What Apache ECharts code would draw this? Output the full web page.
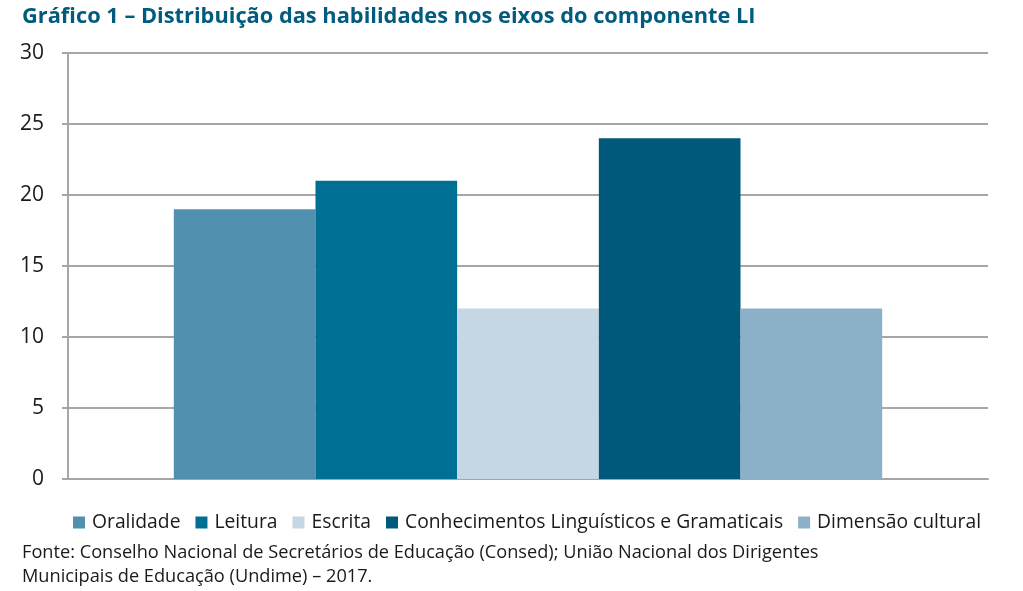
<!DOCTYPE html>
<html><head><meta charset="utf-8">
<script src="https://cdn.jsdelivr.net/npm/echarts@6/dist/echarts.min.js"></script>
<style>html,body{margin:0;padding:0;background:#fff}#c{width:1023px;height:591px}</style>
</head><body><div id="c"></div>
<script>
const categories = ['LI'];
const seriesNames = ['Oralidade','Leitura','Escrita','Conhecimentos Linguísticos e Gramaticais','Dimensão cultural'];
const seriesValues = [19, 21, 12, 24, 12];
const seriesColors = ['#5290b0','#006f94','#c5d7e5','#00587a','#8bb0c8'];
const yTicks = [0,5,10,15,20,25,30];
const titleText = 'Gráfico 1 – Distribuição das habilidades nos eixos do componente LI';
const sourceText = 'Fonte: Conselho Nacional de Secretários de Educação (Consed); União Nacional dos Dirigentes\nMunicipais de Educação (Undime) – 2017.';

const FONT = 'Open Sans';
const chart = echarts.init(document.getElementById('c'), null, {renderer:'canvas'});
chart.setOption({
  animation:false,
  textStyle:{fontFamily:FONT},
  title:[
    {text:titleText,left:17,top:1,textStyle:{fontFamily:FONT,fontSize:21.8,fontWeight:'bold',color:'#005b7f'}},
    {text:sourceText,left:17,top:536,textStyle:{fontFamily:FONT,fontSize:18.2,fontWeight:'normal',color:'#1a1a1a',lineHeight:24}}
  ],
  legend:{
    left:68,top:508,itemWidth:12,itemHeight:12,itemGap:15,icon:'rect',
    textStyle:{fontFamily:FONT,fontSize:19.3,color:'#1a1a1a',padding:[0,0,0,2]},
    data:seriesNames
  },
  grid:{left:68,right:35,top:53,bottom:112,containLabel:false},
  xAxis:{type:'category',data:categories,axisLine:{show:true,lineStyle:{color:'#a6a6a6',width:2}},axisTick:{show:false},axisLabel:{show:false}},
  yAxis:{type:'value',min:yTicks[0],max:yTicks[yTicks.length-1],interval:5,
    axisLine:{show:true,lineStyle:{color:'#a6a6a6',width:2}},
    axisTick:{show:true,length:6,lineStyle:{color:'#a6a6a6',width:2}},
    axisLabel:{fontFamily:FONT,fontSize:21,color:'#1a1a1a',margin:24},
    splitLine:{show:true,lineStyle:{color:'#a6a6a6',width:2}}
  },
  series: seriesNames.map((n,i)=>({
    name:n,type:'bar',data:[seriesValues[i]],barGap:0,barCategoryGap:'23%',
    itemStyle:{color:seriesColors[i]}
  }))
});
</script></body></html>
